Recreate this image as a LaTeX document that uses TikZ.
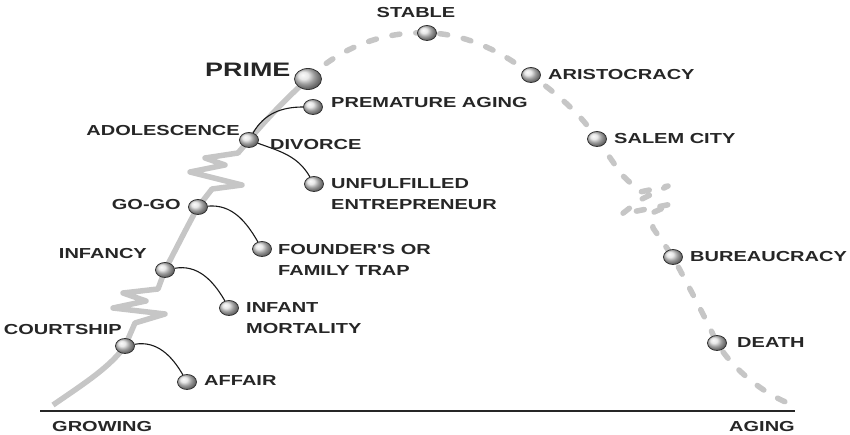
\documentclass[tikz,border=0pt]{standalone}
\usepackage{fontspec}
\newfontfamily\labfont[FakeStretch=1.38]{Liberation Sans}
\usetikzlibrary{shapes.geometric}

\begin{document}
\begin{tikzpicture}[
  x=1pt, y=1pt,
  lab/.style={font=\labfont\bfseries\fontsize{14.5}{21}\selectfont, text=black!85, inner sep=0pt, align=left},
  big/.style={lab, font=\labfont\bfseries\fontsize{19.5}{22}\selectfont},
  bead/.style={ellipse, draw=gray!40!black, line width=0.8pt, shading=ball, ball color=gray!25, minimum width=19pt, minimum height=15pt, inner sep=0pt},
  bigbead/.style={bead, minimum width=27pt, minimum height=21pt},
  life/.style={gray!45, line width=5.5pt, line join=round},
  decline/.style={life, dash pattern=on 8pt off 16pt, line cap=round},
  branch/.style={gray!20!black, line width=1.1pt},
  axis/.style={gray!30!black, line width=1.4pt},
]
\useasboundingbox (0,0) rectangle (850,435);
% stage points
\coordinate (p-court) at (125,89);
\coordinate (p-infancy) at (165,165);
\coordinate (p-gogo) at (198,228);
\coordinate (p-adol) at (249,295);
\coordinate (p-prime) at (308,356);
\coordinate (p-stable) at (427,402);
\coordinate (p-arist) at (531,360);
\coordinate (p-salem) at (597,296);
\coordinate (p-bureau) at (673,178);
\coordinate (p-death) at (717,92);
% growing part
\draw[life] (53,30) .. controls (85,52) and (110,68) .. (p-court)
  -- (135,112) -- (165,121) -- (113,127) -- (146,134) -- (123,142) -- (158,146) -- (p-infancy)
  .. controls (178,190) and (188,210) .. (p-gogo)
  -- (212,246) -- (242,250) -- (190,263) -- (225,270) -- (205,277) -- (238,282) -- (p-adol)
  .. controls (270,320) and (290,340) .. (p-prime);
% aging part
\draw[decline] (p-prime) .. controls (340,388) and (385,404) .. (p-stable)
  .. controls (465,402) and (505,382) .. (p-arist)
  .. controls (558,340) and (580,322) .. (p-salem)
  -- (622,260) -- (640,243) -- (668,249) -- (640,235) -- (622,221) -- (672,231) -- (652,222) -- (653,207)
  -- (p-bureau)
  .. controls (688,150) and (705,118) .. (p-death)
  .. controls (730,70) and (760,42) .. (793,30);
\draw[axis] (40,24) -- (795,24);
% beads
\node[bead] (court) at (p-court) {};
\node[bead] (infancy) at (p-infancy) {};
\node[bead] (gogo) at (p-gogo) {};
\node[bead] (adol) at (p-adol) {};
\node[bigbead] (prime) at (p-prime) {};
\node[bead] (stable) at (p-stable) {};
\node[bead] (arist) at (p-arist) {};
\node[bead] (salem) at (p-salem) {};
\node[bead] (bureau) at (p-bureau) {};
\node[bead] (death) at (p-death) {};
\node[bead] (affair) at (187,53) {};
\node[bead] (infant) at (229,127) {};
\node[bead] (founder) at (262,186) {};
\node[bead] (unful) at (314,251) {};
\node[bead] (premat) at (313,328) {};
% traps
\draw[branch] (court) to[out=10,in=120] (affair);
\draw[branch] (infancy) to[out=10,in=120] (infant);
\draw[branch] (gogo) to[out=5,in=120] (founder);
\draw[branch] (adol) to[out=-20,in=120] (unful);
\draw[branch] (adol) to[out=60,in=180] (premat);
% labels
\node[lab] (t-stable) at (416,422) {STABLE};
\node[big, anchor=west] (t-prime) at (205,365) {PRIME};
\node[lab, anchor=west] (t-premat) at (331,332) {PREMATURE AGING};
\node[lab, anchor=east] (t-adol) at (240,304) {ADOLESCENCE};
\node[lab, anchor=west] (t-divorce) at (270,290) {DIVORCE};
\node[lab, anchor=west] (t-unful) at (331,240.5) {UNFULFILLED\\ENTREPRENEUR};
\node[lab, anchor=east] (t-gogo) at (181,230) {GO-GO};
\node[lab, anchor=west] (t-founder) at (278,175.5) {FOUNDER'S OR\\FAMILY TRAP};
\node[lab, anchor=east] (t-infancy) at (147,181) {INFANCY};
\node[lab, anchor=west] (t-infant) at (246,117) {INFANT\\MORTALITY};
\node[lab, anchor=east] (t-court) at (122,105) {COURTSHIP};
\node[lab, anchor=west] (t-affair) at (204,54) {AFFAIR};
\node[lab, anchor=west] (t-arist) at (548,360) {ARISTOCRACY};
\node[lab, anchor=west] (t-salem) at (614,296) {SALEM CITY};
\node[lab, anchor=west] (t-bureau) at (690,178) {BUREAUCRACY};
\node[lab, anchor=west] (t-death) at (737,92) {DEATH};
\node[lab, anchor=west] (t-grow) at (52,8) {GROWING};
\node[lab, anchor=east] (t-aging) at (795,8) {AGING};
\end{tikzpicture}
\end{document}
